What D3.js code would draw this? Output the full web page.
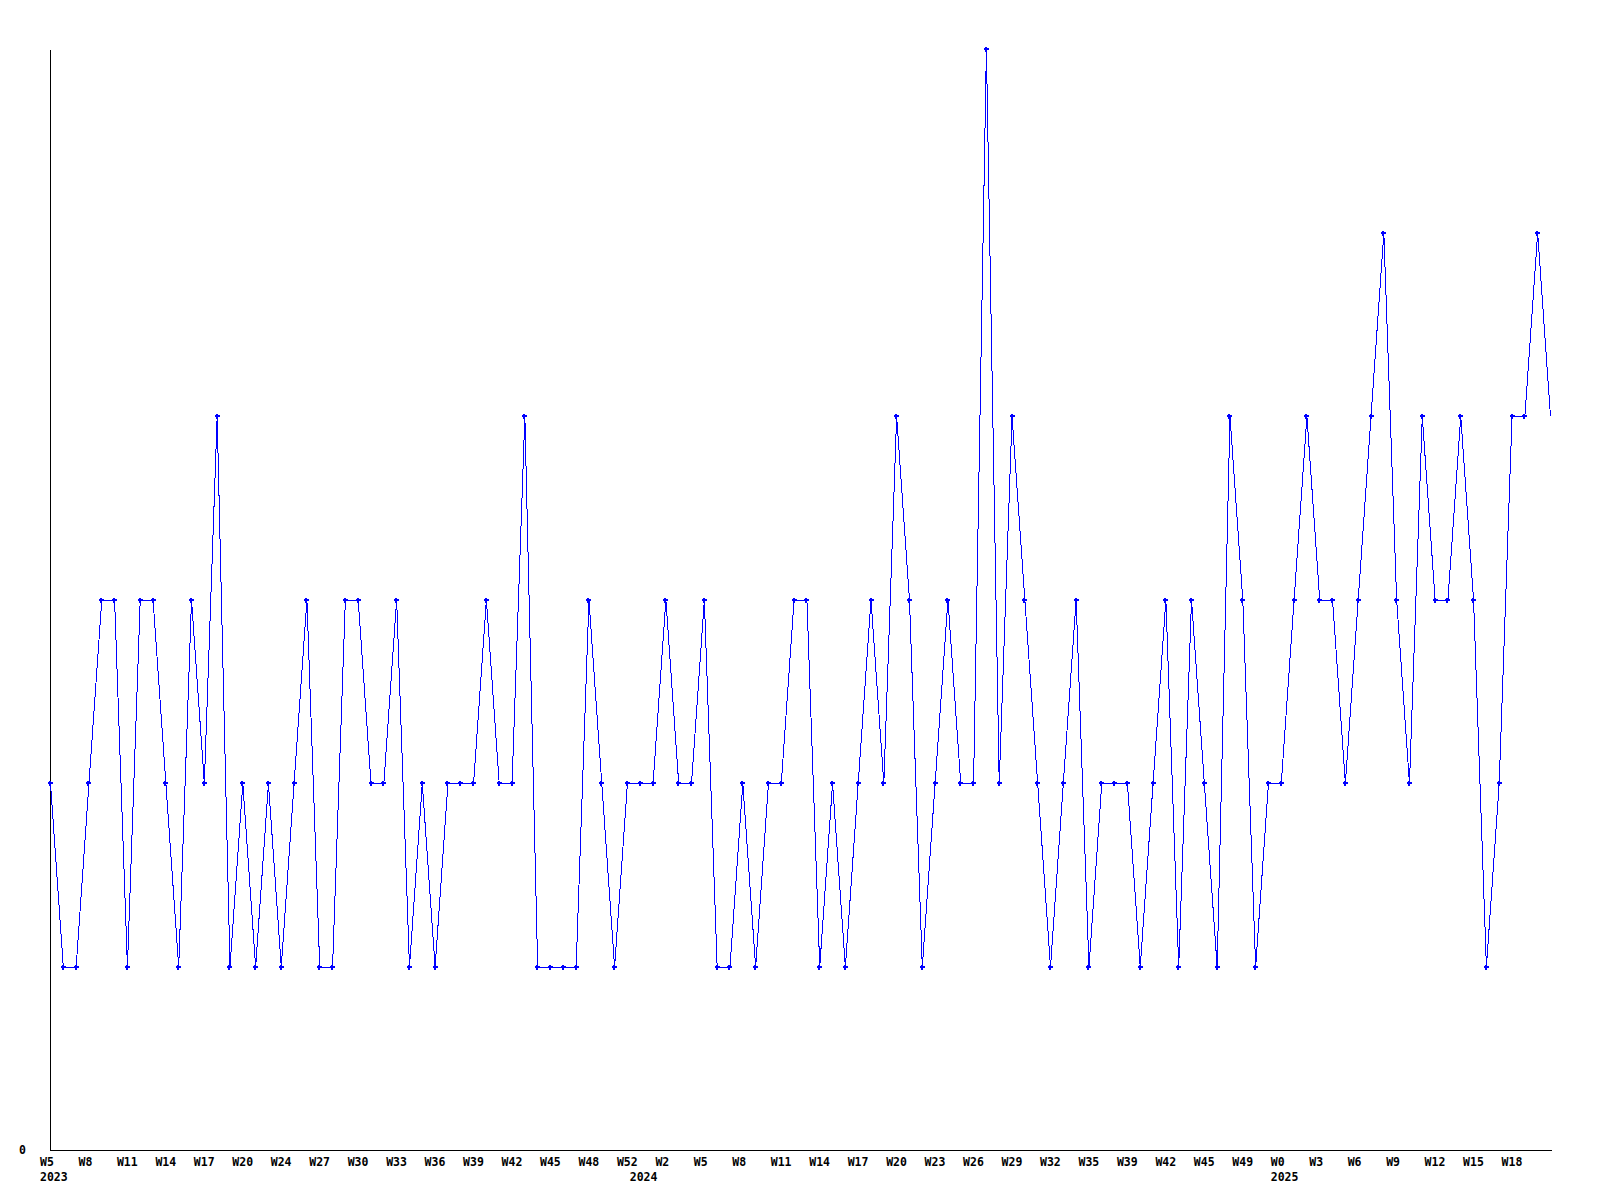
<!DOCTYPE html>
<html>
<head>
<meta charset="utf-8">
<script src="https://cdn.jsdelivr.net/npm/d3@7"></script>
<style>
  html, body { margin: 0; padding: 0; background: #ffffff; }
  svg { display: block; }
  text { font-family: "DejaVu Sans Mono", "Liberation Mono", monospace; font-weight: bold; font-size: 11.5px; fill: #000; }
</style>
</head>
<body>
<svg id="chart" width="1600" height="1200"></svg>
<script>
// Weekly values (one per week)
const values = [
  2,1,1,2,3,3,1,3,3,2,1,3,2,4,1,2,1,2,1,2,
  3,1,1,3,3,2,2,3,1,2,1,2,2,2,3,2,2,4,1,1,
  1,1,3,2,1,2,2,2,3,2,2,3,1,1,2,1,2,2,3,3,
  1,2,1,2,3,2,4,3,1,2,3,2,2,6,2,4,3,2,1,2,
  3,1,2,2,2,1,2,3,1,3,2,1,4,3,1,2,2,3,4,3,
  3,2,3,4,5,3,2,4,3,3,4,3,1,2,4,4,5,4
];
// Tick labels shown every 3rd week
const weekLabels = [
  "W5","W8","W11","W14","W17","W20","W24","W27","W30","W33","W36","W39","W42",
  "W45","W48","W52","W2","W5","W8","W11","W14","W17","W20","W23","W26","W29",
  "W32","W35","W39","W42","W45","W49","W0","W3","W6","W9","W12","W15","W18"
];
const labelStep = 3;
// Year labels and the week index where each year starts
const yearLabels = ["2023","2024","2025"];
const yearIndex = [0, 46, 96];
const yTickLabels = [0];

const svg = d3.select("#chart");
const n = values.length;

const x = d3.scaleLinear().domain([0, n - 1]).range([50.5, 1550.5]);
const y = d3.scaleLinear().domain([0, 6]).range([1150.5, 49.5]);

// Axes lines
svg.append("line")
  .attr("x1", x(0)).attr("x2", x(0))
  .attr("y1", y(6)).attr("y2", y(0))
  .attr("stroke", "#000").attr("stroke-width", 1)
  .attr("shape-rendering", "crispEdges");
svg.append("line")
  .attr("x1", x(0)).attr("x2", x(n - 1) + 1)
  .attr("y1", y(0)).attr("y2", y(0))
  .attr("stroke", "#000").attr("stroke-width", 1)
  .attr("shape-rendering", "crispEdges");

// Y label
svg.selectAll("text.ylab").data(yTickLabels).enter().append("text")
  .attr("class", "ylab")
  .attr("x", 26).attr("y", d => y(d) + 3.5)
  .attr("text-anchor", "end")
  .text(d => String(d));

// X week labels
svg.selectAll("text.wk").data(weekLabels).enter().append("text")
  .attr("class", "wk")
  .attr("x", (d, i) => x(i * labelStep) - 10.5)
  .attr("y", 1166)
  .text(d => d);

// Year labels
svg.selectAll("text.yr").data(yearLabels).enter().append("text")
  .attr("class", "yr")
  .attr("x", (d, i) => x(yearIndex[i]) - 10.5)
  .attr("y", 1180.5)
  .text(d => d);

// Line
const line = d3.line().x((d, i) => x(i)).y(d => y(d));
svg.append("path")
  .datum(values)
  .attr("d", line)
  .attr("fill", "none")
  .attr("stroke", "#0000ff")
  .attr("stroke-width", 1)
  .attr("shape-rendering", "crispEdges");

// Markers (plus shapes), all but the last point
const markerData = values.slice(0, n - 1);
const mk = svg.selectAll("g.mk").data(markerData).enter().append("g")
  .attr("class", "mk")
  .attr("transform", (d, i) => `translate(${x(i) - 0.5},${y(d) - 0.5})`);
mk.append("rect").attr("x", -2).attr("y", -1).attr("width", 5).attr("height", 2)
  .attr("fill", "#0000ff").attr("shape-rendering", "crispEdges");
mk.append("rect").attr("x", -1).attr("y", -2).attr("width", 2).attr("height", 5)
  .attr("fill", "#0000ff").attr("shape-rendering", "crispEdges");
</script>
</body>
</html>
